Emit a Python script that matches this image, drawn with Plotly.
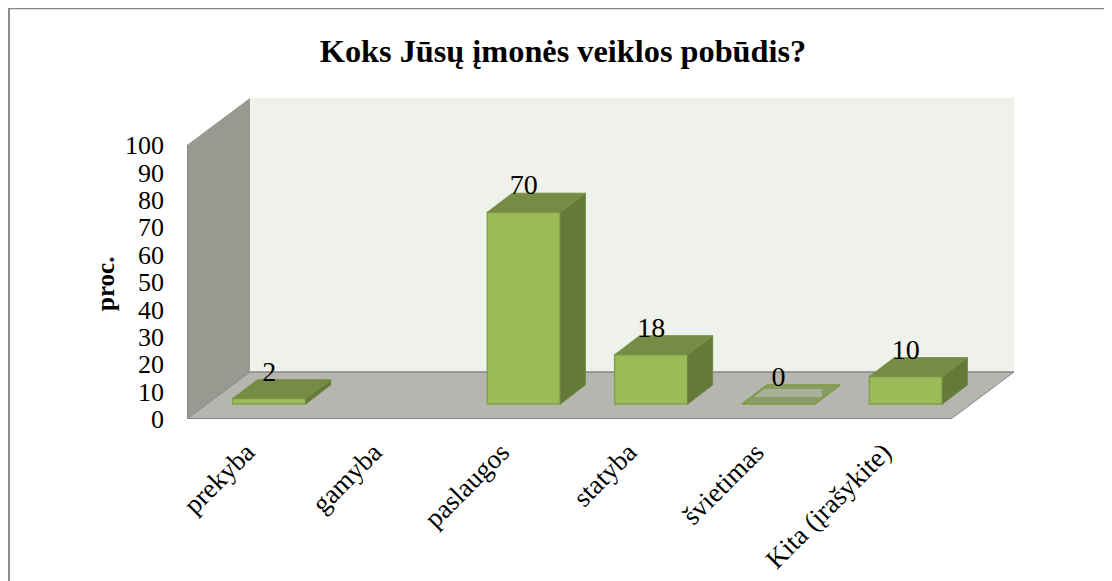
import plotly.graph_objects as go

title = "Koks Jūsų įmonės veiklos pobūdis?"
y_title = "proc."
categories = ["prekyba", "gamyba", "paslaugos", "statyba", "švietimas", "Kita (įrašykite)"]
values = [2, None, 70, 18, 0, 10]
y_ticks = [0, 10, 20, 30, 40, 50, 60, 70, 80, 90, 100]

PAGE = 8            # the page's own margin around the figure
W, H = 1112 - PAGE, 581 - PAGE
L, R, T, B = 187 - PAGE, 98, 98 - PAGE, 162
PW, PH = W - L - R, H - T - B
PX_X = 764 / 6      # pixels per category
PX_Y = 2.74         # pixels per percent
DX, DY = 63 / PX_X, 47 / PX_Y          # full depth of the box
BX, BY = 18.5 / PX_X, 15 / PX_Y        # bar front offset inside the box
CX, CY = 25 / PX_X, 19 / PX_Y          # bar depth
BW = 73 / PX_X                         # bar width
LABEL_UP = 25 / PX_Y
TICK_SHIFT = 4 / PX_X

FONT = "Liberation Serif"
FRONT, TOP, SIDE, EDGE = "#9BBB59", "#768C44", "#647A39", "#84A04A"


def poly(x, y):
    return "M" + " L".join(f"{a},{b}" for a, b in zip(x, y)) + " Z"


shapes = [
    dict(type="path", layer="below", xref="x", yref="y", line=dict(width=0), fillcolor="#EFF1EB",
         path=poly([DX, 6 + DX, 6 + DX, DX], [DY, DY, 100 + DY, 100 + DY])),
    dict(type="path", layer="below", xref="x", yref="y", line=dict(width=0), fillcolor="#989A92",
         path=poly([0, DX, DX, 0], [0, DY, 100 + DY, 100])),
    dict(type="path", layer="below", xref="x", yref="y", line=dict(width=0), fillcolor="#B4B6AF",
         path=poly([0, 6, 6 + DX, DX], [0, 0, DY, DY])),
    dict(type="line", layer="below", xref="x", yref="y", x0=0, x1=6, y0=0, y1=0,
         line=dict(color="#868686", width=2)),
    dict(type="line", layer="below", xref="x", yref="y", x0=6, x1=6 + DX, y0=0, y1=DY,
         line=dict(color="#868686", width=1)),
    dict(type="line", layer="below", xref="x", yref="y", x0=0, x1=DX, y0=0, y1=DY,
         line=dict(color="#868686", width=1)),
    dict(type="line", layer="below", xref="x", yref="y", x0=DX, x1=6 + DX, y0=DY, y1=DY,
         line=dict(color="#868686", width=1.5)),
    dict(type="line", layer="below", xref="x", yref="y", x0=0, x1=0, y0=0, y1=100,
         line=dict(color="#868686", width=2)),
    # outer chart frame
    dict(type="line", xref="paper", yref="paper",
         x0=(1 - L) / PW, x1=(W - L) / PW,
         y0=(H - B - 0.5) / PH, y1=(H - B - 0.5) / PH,
         line=dict(color="#868686", width=1.5)),
    dict(type="line", xref="paper", yref="paper",
         x0=(1 - L) / PW, x1=(1 - L) / PW,
         y0=(H - B) / PH, y1=-B / PH,
         line=dict(color="#8C8C8C", width=2)),
]

fig = go.Figure()

for i, v in enumerate(values):
    if v is None:
        continue
    x0 = i + 0.5 + BX - BW / 2
    x1 = x0 + BW
    b = BY
    t = BY + v
    if v > 0:
        fig.add_trace(go.Bar(x=[(x0 + x1) / 2], y=[v], base=[b], width=[BW],
                             marker=dict(color=FRONT, line=dict(color=EDGE, width=1.5)),
                             showlegend=False, hoverinfo="skip"))
        fig.add_trace(go.Scatter(x=[x1, x1 + CX, x1 + CX, x1, x1], y=[b, b + CY, t + CY, t, b],
                                 mode="lines", fill="toself", fillcolor=SIDE,
                                 line=dict(color="#6E8640", width=1), showlegend=False, hoverinfo="skip"))
        fig.add_trace(go.Scatter(x=[x0, x1, x1 + CX, x0 + CX, x0], y=[t, t, t + CY, t + CY, t],
                                 mode="lines", fill="toself", fillcolor=TOP,
                                 line=dict(color="#7C9248", width=1), showlegend=False, hoverinfo="skip"))
    else:
        fig.add_trace(go.Scatter(x=[x0, x1, x1 + CX, x0 + CX, x0], y=[t, t, t + CY, t + CY, t],
                                 mode="lines", fill="toself", fillcolor="#8A9C62",
                                 line=dict(color="#7C9A42", width=1.5), showlegend=False, hoverinfo="skip"))
        fig.add_trace(go.Scatter(x=[x0 + 0.16 * BW, x1 + 0.28 * CX, x1 + 0.28 * CX, x0 + 0.88 * CX, x0 + 0.16 * BW],
                                 y=[t + 0.37 * CY, t + 0.37 * CY, t + 0.79 * CY, t + 0.79 * CY, t + 0.37 * CY],
                                 mode="lines", fill="toself", fillcolor="#A9B09B",
                                 line=dict(width=0), showlegend=False, hoverinfo="skip"))

xs = [i + 0.5 + BX for i, v in enumerate(values) if v is not None]
ys = [BY + v + LABEL_UP for v in values if v is not None]
fig.add_trace(go.Scatter(x=xs, y=ys, mode="text", text=[str(v) for v in values if v is not None],
                         textposition="middle center", cliponaxis=False,
                         textfont=dict(family=FONT, size=28, color="black"),
                         showlegend=False, hoverinfo="skip"))

fig.update_layout(
    width=W, height=H, autosize=False,
    margin=dict(l=L, r=R, t=T, b=B, pad=0, autoexpand=False),
    paper_bgcolor="white", plot_bgcolor="white",
    barmode="overlay",
    shapes=shapes,
    font=dict(family=FONT, color="black"),
    title=dict(text=f"<b>{title}</b>", x=(563 - PAGE) / W, xanchor="center",
               y=1 - (51 - PAGE) / H, yanchor="middle",
               font=dict(family=FONT, size=32.3, color="black")),
    xaxis=dict(range=[0, PW / PX_X], tickmode="array", automargin=False,
               tickvals=[i + 0.5 - TICK_SHIFT for i in range(len(categories))], ticktext=categories,
               tickangle=-45, tickfont=dict(family=FONT, size=27, color="black"),
               showgrid=False, zeroline=False, showline=False, ticks="", ticklabelstandoff=11),
    yaxis=dict(range=[0, PH / PX_Y], tickmode="array", tickvals=y_ticks, automargin=False,
               tickfont=dict(family=FONT, size=26, color="black"),
               showgrid=False, zeroline=False, showline=False, ticks="", ticklabelstandoff=22),
    annotations=[dict(text=f"<b>{y_title}</b>", textangle=-90, showarrow=False,
                      xref="paper", yref="paper",
                      x=(105 - 187) / PW, y=(419 - 284) / PH, xanchor="center", yanchor="middle",
                      font=dict(family=FONT, size=25, color="black"))],
)

fig.write_html("out.html")
